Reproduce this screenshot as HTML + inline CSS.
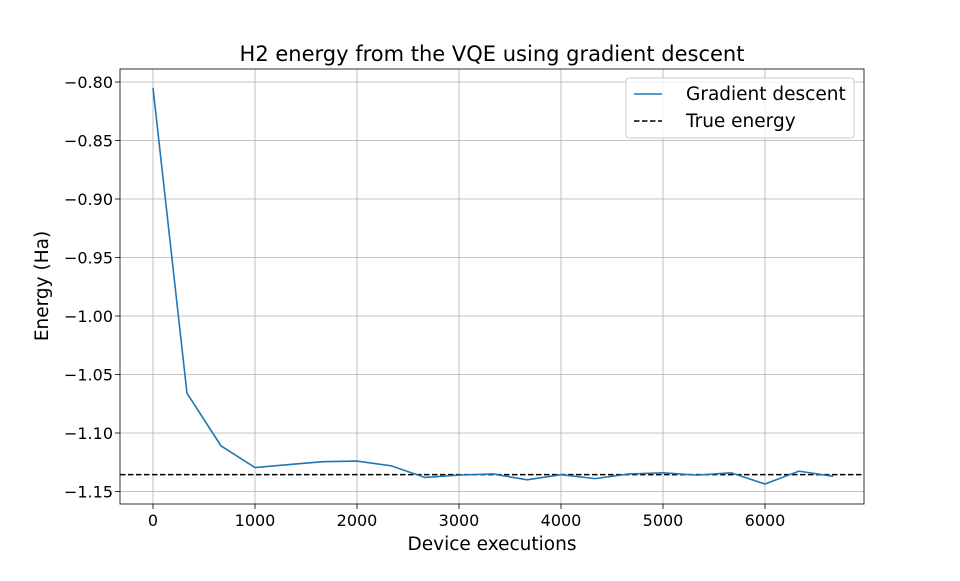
<!DOCTYPE html>
<html><head><meta charset="utf-8"><style>
body{margin:0;background:#fff;}
svg text{font-family:"DejaVu Sans","Liberation Sans",sans-serif;fill:#000;}
</style></head><body>
<svg id="chart" width="960" height="576" xmlns="http://www.w3.org/2000/svg"></svg>
<script>
const xValues = [0,333,667,1000,1333,1667,2000,2333,2667,3000,3333,3667,4000,4333,4667,5000,5333,5667,6000,6333,6667];
const energyValues = [-0.805,-1.066,-1.111,-1.1295,-1.127,-1.1245,-1.124,-1.128,-1.138,-1.136,-1.135,-1.140,-1.1356,-1.139,-1.135,-1.134,-1.136,-1.134,-1.1436,-1.1326,-1.137];
const trueEnergy = -1.1356;
const xTicks = [0,1000,2000,3000,4000,5000,6000];
const yTicks = [-0.80,-0.85,-0.90,-0.95,-1.00,-1.05,-1.10,-1.15];
const yTickLabels = ["\u22120.80","\u22120.85","\u22120.90","\u22120.95","\u22121.00","\u22121.05","\u22121.10","\u22121.15"];

const L=120,R=864,T=69,B=504;
const xs=v=>153+v*0.102;
const ys=v=>82+(-0.80-v)*1170;
const NS="http://www.w3.org/2000/svg";
const svg=document.getElementById('chart');
function mk(tag,attrs,parent){const e=document.createElementNS(NS,tag);for(const k in attrs)e.setAttribute(k,attrs[k]);(parent||svg).appendChild(e);return e;}

const grid=mk('g',{});


xTicks.forEach(t=>{mk('line',{x1:xs(t),x2:xs(t),y1:T,y2:B,stroke:'#b0b0b0','stroke-width':0.8},grid);});
yTicks.forEach(t=>{mk('line',{x1:L,x2:R,y1:ys(t),y2:ys(t),stroke:'#b0b0b0','stroke-width':0.8},grid);});

const xa=mk('g',{});


xTicks.forEach(t=>{mk('line',{x1:xs(t),x2:xs(t),y1:B,y2:B+5,stroke:'#000','stroke-width':0.8},xa);
const tx=mk('text',{x:xs(t),y:B+22,'text-anchor':'middle','font-size':16},xa);tx.textContent=t;});
const ya=mk('g',{});


yTicks.forEach((t,i)=>{mk('line',{x1:L-5,x2:L,y1:ys(t),y2:ys(t),stroke:'#000','stroke-width':0.8},ya);
const tx=mk('text',{x:L-7,y:ys(t)+6,'text-anchor':'end','font-size':16},ya);tx.textContent=yTickLabels[i];});

const te=mk('line',{x1:L,x2:R,y1:ys(trueEnergy),y2:ys(trueEnergy),stroke:'#000','stroke-width':1.5,'stroke-dasharray':'5.5,2.5'});


const gd=mk('polyline',{points:xValues.map((x,i)=>xs(x)+','+ys(energyValues[i])).join(' '),fill:'none',stroke:'#1f77b4','stroke-width':1.6});



const frame=mk('rect',{x:L,y:T,width:R-L,height:B-T,fill:'none',stroke:'#000','stroke-width':0.8});



const title=mk('text',{x:492,y:61,'text-anchor':'middle','font-size':21});
title.textContent='H2 energy from the VQE using gradient descent';


const xt=mk('text',{x:492,y:550,'text-anchor':'middle','font-size':18.5});
xt.textContent='Device executions';


const yt=mk('text',{x:48,y:286,'text-anchor':'middle','font-size':18.5,transform:'rotate(-90 48 286)'});
yt.textContent='Energy (Ha)';



const lg=mk('g',{});


mk('rect',{x:626,y:78,width:228,height:60,rx:3,fill:'#fff','fill-opacity':0.8,stroke:'#ccc','stroke-width':1},lg);
const e1=mk('g',{},lg);


mk('line',{x1:634,x2:662,y1:94,y2:94,stroke:'#1f77b4','stroke-width':1.6},e1);
const t1=mk('text',{x:686,y:100,'font-size':18.5},e1);t1.textContent='Gradient descent';
const e2=mk('g',{},lg);


mk('line',{x1:634,x2:662,y1:121,y2:121,stroke:'#000','stroke-width':1.5,'stroke-dasharray':'5.5,2.5'},e2);
const t2=mk('text',{x:686,y:127,'font-size':18.5},e2);t2.textContent='True energy';
</script>
</body></html>
